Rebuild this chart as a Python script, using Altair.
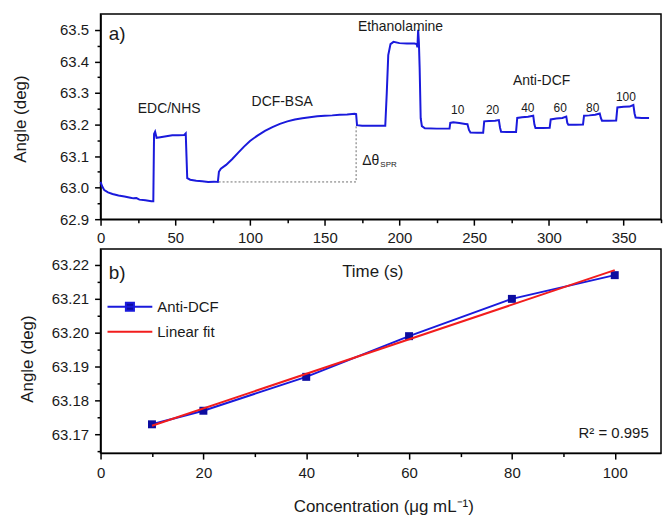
import altair as alt
import pandas as pd

FONT = "Liberation Sans"
INK = "#1a1a1a"
BLUE = "#1a1adc"
NAVY = "#0c0ca0"
RED = "#f21d1d"
DASH = "#6e6e6e"

# ---------------- (a) SPR sensorgram ----------------
time_s = [
    0, 1, 2.5, 5, 8, 12, 16, 20, 22, 24, 26, 30, 34, 35.3,
    35.8, 36.5, 37.5, 40, 44, 48, 52, 56, 57, 57.5, 58, 60, 64, 68, 72, 76, 78.5,
    79.2, 80.5, 84, 88, 92, 96, 100, 105, 110, 115, 120, 125, 130, 135, 140, 145,
    150, 155, 160, 165, 170, 171, 171.6, 175, 180, 185, 190.5,
    191.5, 192.5, 194, 196, 200, 205, 210, 211.5, 212, 212.5, 213, 213.5, 214.2,
    215, 217, 225, 233.5,
    234, 236, 240, 244, 245.5, 246.5, 247.5, 252, 256,
    256.7, 260, 264, 266.5, 267.3, 268, 272, 278,
    278.8, 282, 286, 289.5, 290.3, 291, 296, 300.5,
    301.2, 305, 309, 311.6, 312.3, 313, 318, 322.8,
    323.5, 327, 331, 334, 334.8, 335.5, 340, 345,
    345.8, 350, 354, 356.5, 357.3, 358, 362, 367,
]
angle_deg = [
    63.018, 63.005, 62.992, 62.985, 62.980, 62.975, 62.972, 62.968, 62.966, 62.967,
    62.962, 62.960, 62.957, 62.957,
    63.170, 63.177, 63.158, 63.160, 63.163, 63.166, 63.166, 63.167, 63.172, 63.100,
    63.030, 63.025, 63.022, 63.020, 63.018, 63.019, 63.018,
    63.050, 63.060, 63.072, 63.090, 63.110, 63.130, 63.148, 63.165, 63.180, 63.192,
    63.202, 63.210, 63.216, 63.220, 63.223, 63.226, 63.228, 63.229, 63.231, 63.232,
    63.234, 63.233, 63.198, 63.196, 63.196, 63.196, 63.196,
    63.300, 63.420, 63.455, 63.462, 63.458, 63.457, 63.457, 63.455, 63.445, 63.500,
    63.460, 63.380, 63.220, 63.195, 63.188, 63.187, 63.187,
    63.205, 63.207, 63.205, 63.202, 63.201, 63.183, 63.175, 63.174, 63.174,
    63.210, 63.211, 63.212, 63.214, 63.190, 63.177, 63.176, 63.176,
    63.221, 63.223, 63.225, 63.228, 63.200, 63.189, 63.189, 63.190,
    63.216, 63.219, 63.221, 63.225, 63.205, 63.199, 63.199, 63.200,
    63.228, 63.229, 63.231, 63.235, 63.220, 63.212, 63.212, 63.213,
    63.254, 63.256, 63.257, 63.262, 63.235, 63.222, 63.221, 63.221,
]

# dotted guide for the DCF-BSA immobilisation shift
dash_time = [79.0, 171.0, 171.0]
dash_angle = [63.018, 63.018, 63.198]

# step names and anti-DCF concentrations written over the trace
step_labels = ["EDC/NHS", "DCF-BSA", "Ethanolamine", "Anti-DCF"]
step_time = [45.9, 121.5, 200.7, 295.1]
step_angle = [63.249, 63.270, 63.510, 63.337]

dose_labels = ["10", "20", "40", "60", "80", "100"]
dose_time = [239.0, 262.3, 285.9, 307.5, 329.3, 351.5]
dose_angle = [63.247, 63.247, 63.251, 63.2525, 63.251, 63.287]

# ---------------- (b) calibration ----------------
conc_ug_ml = [10, 20, 40, 60, 80, 100]
resp_deg = [63.173, 63.177, 63.187, 63.199, 63.210, 63.217]


def axis(title, values, minor, fmt=None, **kw):
    """Axis with long labelled ticks and short unlabelled minor ticks."""
    props = dict(
        title=title,
        values=values,
        labelExpr=f"({minor}) ? '' : datum.label",
        tickSize={"condition": {"test": minor, "value": 3.5}, "value": 6},
        labelOverlap=False,
        labelFlush=False,
        grid=False,
    )
    if fmt:
        props["format"] = fmt
    props.update(kw)
    return alt.Axis(**props)


# ---- top panel encodings ----
x_time = alt.X(
    "t:Q",
    scale=alt.Scale(domain=[0, 375], nice=False, zero=False),
    axis=axis("Time (s)", list(range(0, 376, 25)), "datum.value % 50 != 0",
              labelPadding=5, titleX=273, titleY=53,
              titleBaseline="middle", titleAlign="center"),
)
y_angle = alt.Y(
    "a:Q",
    scale=alt.Scale(domain=[62.9, 63.55], nice=False, zero=False),
    axis=axis("Angle (deg)", [round(62.9 + 0.05 * i, 2) for i in range(13)],
              "abs(datum.value * 10 - round(datum.value * 10)) > 0.001", fmt=".1f",
              labelPadding=6, titleX=-80, titleY=105,
              titleBaseline="middle", titleAlign="center"),
)

sens = pd.DataFrame({"t": time_s, "a": angle_deg})
trace = alt.Chart(sens).mark_line(color=BLUE, strokeWidth=2).encode(x=x_time, y=y_angle)

guide = alt.Chart(
    pd.DataFrame({"t": dash_time, "a": dash_angle, "i": range(len(dash_time))})
).mark_line(color=DASH, strokeWidth=1, strokeDash=[2, 2]).encode(
    x=x_time, y=y_angle, order="i:O"
)

steps = alt.Chart(
    pd.DataFrame({"t": step_time, "a": step_angle, "txt": step_labels})
).mark_text(font=FONT, fontSize=14, color=INK, baseline="middle").encode(
    x=x_time, y=y_angle, text="txt:N"
)
doses = alt.Chart(
    pd.DataFrame({"t": dose_time, "a": dose_angle, "txt": dose_labels})
).mark_text(font=FONT, fontSize=12, color=INK, baseline="middle").encode(
    x=x_time, y=y_angle, text="txt:N"
)
panel_a = alt.Chart(pd.DataFrame({"t": [5.5], "a": [63.486], "txt": ["a)"]})).mark_text(
    font=FONT, fontSize=19, color=INK, align="left", baseline="middle"
).encode(x=x_time, y=y_angle, text="txt:N")
delta = alt.Chart(pd.DataFrame({"t": [175.1], "a": [63.085], "txt": ["Δθ"]})).mark_text(
    font=FONT, fontSize=14, color=INK, align="left", baseline="middle"
).encode(x=x_time, y=y_angle, text="txt:N")
delta_sub = alt.Chart(pd.DataFrame({"t": [187.2], "a": [63.073], "txt": ["SPR"]})).mark_text(
    font=FONT, fontSize=8, color=INK, align="left", baseline="middle"
).encode(x=x_time, y=y_angle, text="txt:N")

top = alt.layer(trace, guide, steps, doses, panel_a, delta, delta_sub).properties(
    width=563, height=206
)

# ---- bottom panel encodings ----
x_conc = alt.X(
    "c:Q",
    scale=alt.Scale(domain=[0, 109], nice=False, zero=False),
    axis=axis("Concentration (μg mL⁻¹)", list(range(0, 101, 10)), "datum.value % 20 != 0",
              labelPadding=6, titleX=284, titleY=54,
              titleBaseline="middle", titleAlign="center"),
)
y_resp = alt.Y(
    "a:Q",
    scale=alt.Scale(domain=[63.1645, 63.2247], nice=False, zero=False),
    axis=axis("Angle (deg)", [round(63.165 + 0.005 * i, 3) for i in range(12)],
              "abs(datum.value * 100 - round(datum.value * 100)) > 0.001", fmt=".2f",
              labelPadding=6, titleX=-73, titleY=110,
              titleBaseline="middle", titleAlign="center"),
)

cal = pd.DataFrame({"c": conc_ug_ml, "a": resp_deg, "s": "Anti-DCF"})

data_line = alt.Chart(cal).mark_line(strokeWidth=2).encode(
    x=x_conc,
    y=y_resp,
    color=alt.Color(
        "s:N",
        scale=alt.Scale(domain=["Anti-DCF"], range=[BLUE]),
        legend=alt.Legend(
            title=None, orient="none", legendX=6, legendY=34.5, padding=0,
            symbolType="M-1,0H1M-0.18,-0.18H0.18V0.18H-0.18Z", symbolSize=2025,
            symbolStrokeWidth=2, symbolFillColor=NAVY,
            labelFont=FONT, labelFontSize=15, labelColor=INK, labelOffset=4,
        ),
    ),
)
data_pts = alt.Chart(cal).mark_square(size=64, color=NAVY, filled=True, opacity=1).encode(
    x=x_conc, y=y_resp
)
fit = alt.Chart(cal).transform_regression("c", "a").transform_calculate(
    s="'Linear fit'"
).mark_line(strokeWidth=2).encode(
    x=x_conc,
    y=y_resp,
    color=alt.Color(
        "s:N",
        scale=alt.Scale(domain=["Linear fit"], range=[RED]),
        legend=alt.Legend(
            title=None, orient="none", legendX=6, legendY=59.5, padding=0,
            symbolType="M-1,0H1", symbolSize=2025, symbolStrokeWidth=2,
            labelFont=FONT, labelFontSize=15, labelColor=INK, labelOffset=4,
        ),
    ),
)
panel_b = alt.Chart(pd.DataFrame({"c": [1.6], "a": [63.2175], "txt": ["b)"]})).mark_text(
    font=FONT, fontSize=19, color=INK, align="left", baseline="middle"
).encode(x=x_conc, y=y_resp, text="txt:N")
r2 = alt.Chart(pd.DataFrame({"c": [106.6], "a": [63.1705], "txt": ["R² = 0.995"]})).mark_text(
    font=FONT, fontSize=15, color=INK, align="right", baseline="middle"
).encode(x=x_conc, y=y_resp, text="txt:N")

bottom = alt.layer(data_line, data_pts, fit, panel_b, r2).resolve_scale(
    color="independent"
).properties(width=563, height=205)

chart = (
    alt.vconcat(top, bottom, spacing=30, bounds="flush")
    .properties(padding={"left": 11, "top": 12, "right": 2, "bottom": 0}, background="white")
    .configure_view(stroke="black", strokeWidth=1.5)
    .configure_axis(
        labelFont=FONT, labelFontSize=15, labelColor=INK,
        titleFont=FONT, titleFontSize=17, titleFontWeight="normal", titleColor=INK,
        domainColor="black", domainWidth=1.5, tickColor="black", tickWidth=1.5,
    )
)

chart.save("out.html", embed_options={"renderer": "svg", "actions": False})
